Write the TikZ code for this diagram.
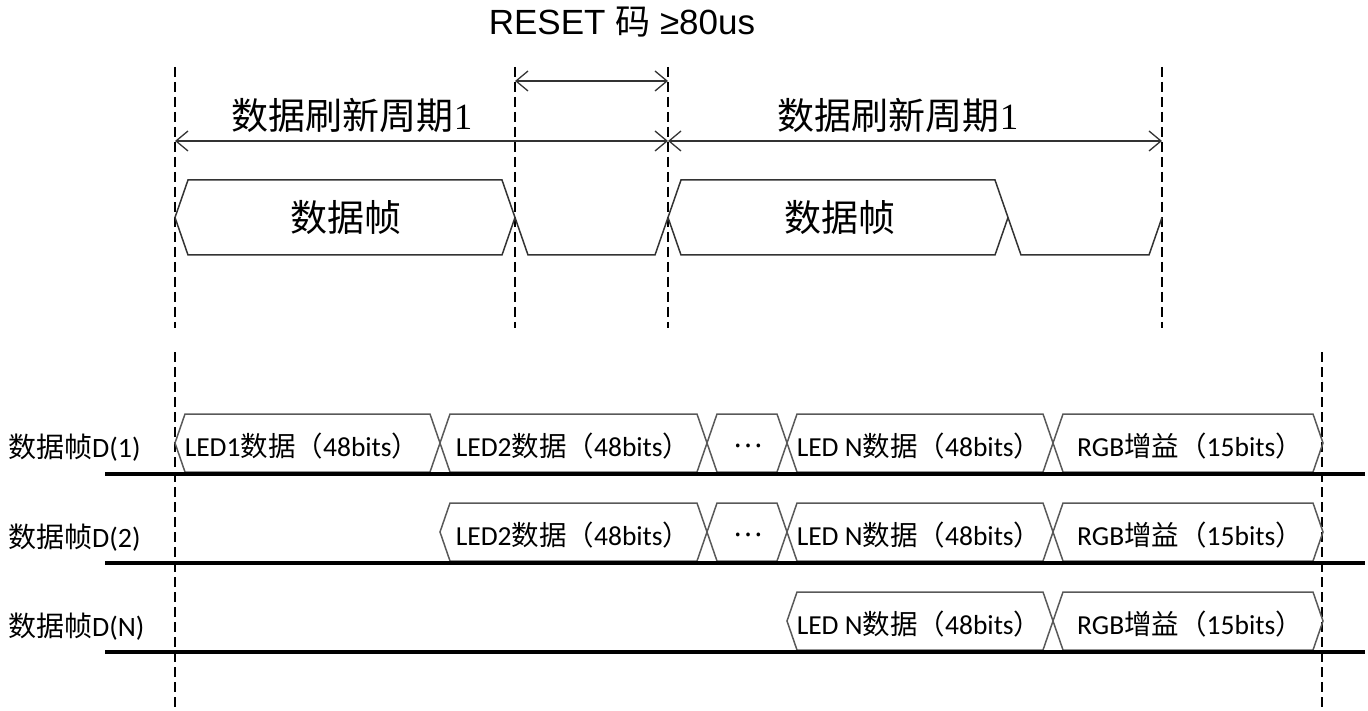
\documentclass[tikz,border=0pt]{standalone}
\usepackage{fontspec}
\setmainfont{Carlito}
\newfontfamily\cjk{Noto Sans CJK SC}
\newfontfamily\arialf{Liberation Sans}
\newfontfamily\serif{Liberation Serif}
\usetikzlibrary{arrows.meta}
\begin{document}
\begin{tikzpicture}[x=1pt,y=-1pt,
  vdash/.style={line width=2.8pt, dash pattern=on 10pt off 5pt},
  dimbar/.style={line width=1.3pt, draw=black!80,
     {Straight Barb[length=12pt,width=20pt]}-{Straight Barb[length=12pt,width=20pt]}},
  sigline/.style={line width=1.5pt, draw=black!80, line join=miter},
  boxline/.style={line width=1.5pt, draw=black!65},
  baseline/.style={line width=4.5pt},
  boxtext/.style={inner sep=0pt, font=\fontsize{27.5}{34}\selectfont},
  rowlabel/.style={inner sep=0pt, anchor=west, font=\fontsize{28}{34}\selectfont},
  toplabel/.style={inner sep=0pt, font=\fontsize{37}{42}\selectfont},
]
\path[use as bounding box] (0,0) rectangle (1368,711);

% title
\node[inner sep=0pt, font=\arialf\fontsize{35}{38}\selectfont] (title) at (622,22) {RESET {\cjk 码} ≥80us};

% top dashed guides
\foreach \n/\x in {a/175,b/515,c/668,d/1162}{
  \coordinate (\n top) at (\x,67);
  \coordinate (\n bot) at (\x,328);
  \draw[vdash] (\n top) -- (\n bot);
}

% dimension arrows
\coordinate (r1) at (515,81);
\coordinate (r2) at (668,81);
\draw[dimbar] (r1) -- (r2);
\coordinate (p1) at (175,141);
\coordinate (p2) at (668,141);
\coordinate (p3) at (1162,141);
\draw[dimbar] (p1) -- (p2);
\draw[dimbar] (p2) -- (p3);
\node[toplabel] (cyc1) at (352,115) {{\cjk 数据刷新周期}{\serif 1}};
\node[toplabel] (cyc2) at (898,115) {{\cjk 数据刷新周期}{\serif 1}};

% top bus
\draw[sigline] (175,217.5) -- (188,180) -- (502,180) -- (515,217.5) -- (502,255) -- (188,255) -- cycle;
\draw[sigline] (515,217.5) -- (528,255) -- (655,255) -- (668,217.5);
\draw[sigline] (668,217.5) -- (681,180) -- (995,180) -- (1008,217.5) -- (995,255) -- (681,255) -- cycle;
\draw[sigline] (1008,217.5) -- (1021,255) -- (1149,255) -- (1162,217.5);
\node[toplabel] (frm1) at (346,217) {\cjk 数据帧};
\node[toplabel] (frm2) at (840,217) {\cjk 数据帧};

% bottom dashed guides
\coordinate (e top) at (175,352);
\coordinate (e bot) at (175,711);
\coordinate (f top) at (1322,352);
\coordinate (f bot) at (1322,711);
\draw[vdash] (e top) -- (e bot);
\draw[vdash] (f top) -- (f bot);

% bus boxes: rows
\def\hb#1#2#3{% left, right, mid
  \draw[boxline] (#1,#3) -- (#1+10,#3-29) -- (#2-10,#3-29) -- (#2,#3) -- (#2-10,#3+29) -- (#1+10,#3+29) -- cycle;}
% row 1
\hb{175}{440}{443}
\hb{440}{707}{443}
\hb{707}{787}{443}
\hb{787}{1053}{443}
\hb{1053}{1323}{443}
% row 2
\hb{440}{707}{532}
\hb{707}{787}{532}
\hb{787}{1053}{532}
\hb{1053}{1323}{532}
% row 3
\hb{787}{1053}{621}
\hb{1053}{1323}{621}

% baselines
\foreach \n/\y in {1/474,2/563,3/652}{
  \coordinate (bl\n) at (105,\y);
  \coordinate (br\n) at (1365,\y);
  \draw[baseline] (bl\n) -- (br\n);
}

% row labels
\node[rowlabel] (lab1) at (8,448) {{\cjk 数据帧}D(1)};
\node[rowlabel] (lab2) at (8,538) {{\cjk 数据帧}D(2)};
\node[rowlabel] (lab3) at (8,627) {{\cjk 数据帧}D(N)};

% box texts
\node[boxtext] (t11) at (302,446) {LED1{\cjk 数据（}48bits{\cjk ）}};
\node[boxtext] (t12) at (573,446) {LED2{\cjk 数据（}48bits{\cjk ）}};
\node[boxtext] (t13) at (748,446) {{\cjk ⋯}};
\node[boxtext] (t14) at (919,446) {LED N{\cjk 数据（}48bits{\cjk ）}};
\node[boxtext] (t15) at (1190,446) {RGB{\cjk 增益（}15bits{\cjk ）}};

\node[boxtext] (t22) at (573,535) {LED2{\cjk 数据（}48bits{\cjk ）}};
\node[boxtext] (t23) at (748,535) {{\cjk ⋯}};
\node[boxtext] (t24) at (919,535) {LED N{\cjk 数据（}48bits{\cjk ）}};
\node[boxtext] (t25) at (1190,535) {RGB{\cjk 增益（}15bits{\cjk ）}};

\node[boxtext] (t34) at (919,624) {LED N{\cjk 数据（}48bits{\cjk ）}};
\node[boxtext] (t35) at (1190,624) {RGB{\cjk 增益（}15bits{\cjk ）}};
\end{tikzpicture}
\end{document}
